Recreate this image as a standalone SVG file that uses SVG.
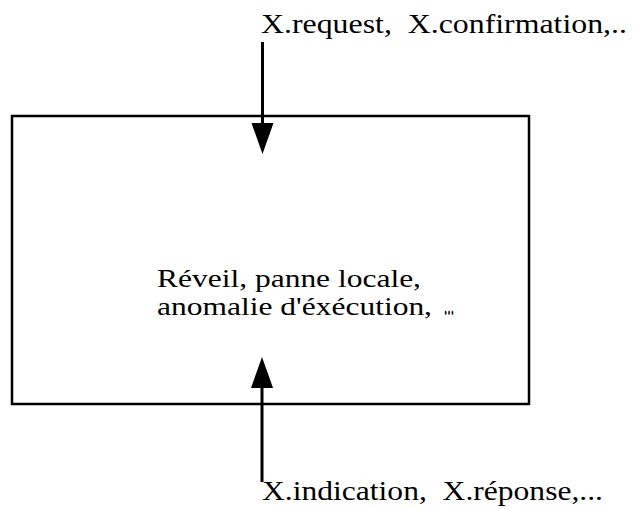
<svg xmlns="http://www.w3.org/2000/svg" width="634" height="509" viewBox="0 0 634 509">
  <style>
    .lbl { font-family: "Liberation Serif", "Times New Roman", serif; font-size: 27px; fill: #000; }
    .mid { font-size: 25px; }
    .edge { stroke: #000; stroke-width: 3; fill: none; }
    .head { fill: #000; }
    .box { stroke: #000; stroke-width: 2.5; fill: #fff; }
  </style>

  <rect width="634" height="509" fill="#fff"/>

  <!-- process box with its event list -->
  <g id="process">
    <rect class="box" x="12" y="116" width="517" height="288"/>
    <text class="lbl mid" x="157" y="286.5" textLength="264" lengthAdjust="spacingAndGlyphs">Réveil, panne locale,</text>
    <text class="lbl mid" x="157" y="314.5" textLength="275" lengthAdjust="spacingAndGlyphs">anomalie d'éxécution,</text>
    <text class="lbl" x="444" y="315" font-size="9" font-weight="bold" textLength="10" lengthAdjust="spacingAndGlyphs">…</text>
  </g>

  <!-- incoming primitives -->
  <g id="input-label">
    <text class="lbl" x="261" y="33" xml:space="preserve" textLength="366" lengthAdjust="spacingAndGlyphs">X.request,  X.confirmation,..</text>
  </g>

  <!-- outgoing primitives -->
  <g id="output-label">
    <text class="lbl" x="262" y="500" xml:space="preserve" textLength="341" lengthAdjust="spacingAndGlyphs">X.indication,  X.réponse,...</text>
  </g>

  <g id="connectors">
    <line class="edge" x1="262.5" y1="42" x2="262.5" y2="125"/>
    <path class="head" d="M251.5,123 L273.5,123 L262.5,154 Z"/>
    <line class="edge" x1="262" y1="482" x2="262" y2="386"/>
    <path class="head" d="M251,388 L273,388 L262,357 Z"/>
  </g>
</svg>
